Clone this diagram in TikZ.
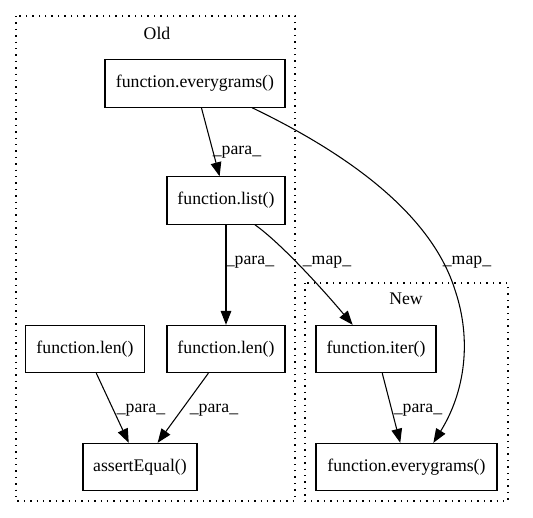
\documentclass[tikz,border=0pt]{standalone}
\usepackage{fontspec}
\setmainfont{Liberation Serif}
\usetikzlibrary{arrows.meta}

\tikzset{
  fn/.style={draw, line width=0.8pt, minimum height=35.5pt, inner sep=0pt},
  lbl/.style={inner sep=0pt},
  edge/.style={line width=0.8pt, -{Triangle[length=10.5pt, width=8pt]}},
  cluster/.style={line width=1pt, dash pattern=on 1.1pt off 3.7pt}
}

\begin{document}
\begin{tikzpicture}[x=0.75pt, y=-0.75pt, font=\fontsize{13.3}{16}\selectfont]
      \useasboundingbox (0,0) rectangle (533,518);
      \draw[cluster] (16,16) rectangle (295,501);
      \draw[cluster] (305,283) rectangle (508,501);
      \node[lbl] (old) at (157,33) {Old};
      \node[lbl] (new) at (406,299) {New};

      \node[fn, minimum width=135pt] (ev) at (195,83.5) {function.everygrams()};
      \node[fn, minimum width=88.5pt] (list) at (226,200.5) {function.list()};
      \node[fn, minimum width=89.25pt] (lenA) at (85,349) {function.len()};
      \node[fn, minimum width=88.5pt] (lenB) at (226,349) {function.len()};
      \node[fn, minimum width=85.5pt] (assert) at (140,467) {assertEqual()};
      \node[fn, minimum width=90pt] (iter) at (376,349) {function.iter()};
      \node[fn, minimum width=135.75pt] (evn) at (406.5,467) {function.everygrams()};

      \draw[edge] (ev) -- (list);
      \draw[edge] (list) -- (lenB);
      \draw[edge] (list.-40) .. controls (282,244) and (325,292) .. (iter.134);
      \draw[edge] (ev.-23) .. controls (340,150) and (430,210) .. (455,290)
                  .. controls (472,340) and (465,392) .. (evn.42);
      \draw[edge] (lenA) -- (assert);
      \draw[edge] (lenB) -- (assert);
      \draw[edge] (iter) -- (evn);

      \node[lbl] (p1) at (237,152) {\_para\_};
      \node[lbl] (p2) at (250,262) {\_para\_};
      \node[lbl] (m1) at (327,262) {\_map\_};
      \node[lbl] (m2) at (467,262) {\_map\_};
      \node[lbl] (p3) at (141,410) {\_para\_};
      \node[lbl] (p4) at (214,410) {\_para\_};
      \node[lbl] (p5) at (418,410) {\_para\_};
\end{tikzpicture}
\end{document}
